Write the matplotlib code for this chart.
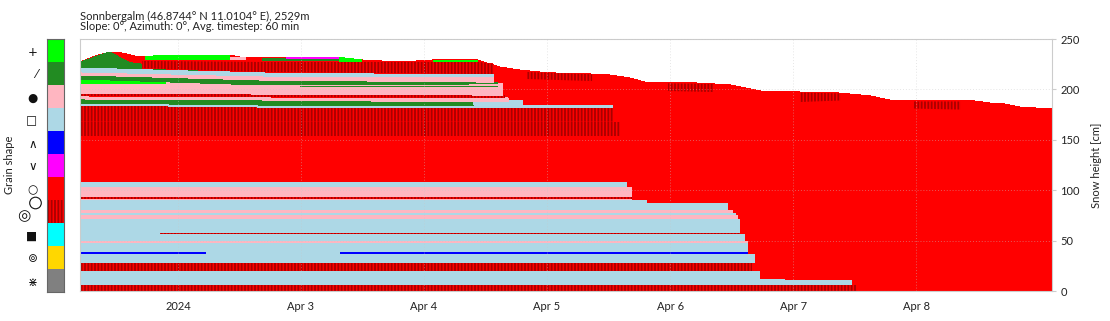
import numpy as np
import pandas as pd
import matplotlib
matplotlib.use("Agg")
import matplotlib.pyplot as plt
from matplotlib.patches import Circle

plt.rcParams['font.family'] = ['Lato', 'DejaVu Sans']
plt.rcParams['hatch.linewidth'] = 1.3

# ---------------- data ----------------
TITLE_1 = "Sonnbergalm (46.8744° N 11.0104° E), 2529m"
TITLE_2 = "Slope: 0°, Azimuth: 0°, Avg. timestep: 60 min"
ORIGIN = "2024-04-01 00:00"          # hours below are counted from here
X_RANGE_HOURS = [4.9, 194.5]
Y_RANGE_CM = [0, 250]
Y_TICKS = [0, 50, 100, 150, 200, 250]
X_TICK_HOURS = [24, 48, 72, 96, 120, 144, 168]
X_TICK_LABELS = ["2024", "Apr 3", "Apr 4", "Apr 5", "Apr 6", "Apr 7", "Apr 8"]

GRAIN_CODES = ['PP', 'DF', 'RG', 'FC', 'DH', 'SH', 'MF', 'MFcr', 'IF', 'FCxr', 'PPgp']
GRAIN_SYMBOLS = ['+', '⁄', '●', '□', '∧', '∨', '○', '', '■', '⊚', '⋇']
GRAIN_COLORS = ['#00ff00', '#228b22', '#ffb6c1', '#add8e6', '#0000ff', '#ff00ff',
                '#ff0000', '#ff0000', '#00ffff', '#ffd700', '#808080']

# snow surface (total snow height)
SURFACE_HOURS = [4.9, 7.8, 10.7, 12.3, 15.6, 17.6, 20.5, 34.1, 36.1, 40.4, 55.6, 59.9,
                 67.3, 73.8, 82.5, 84.9, 86.8, 90.7, 96.6, 104.4, 108.3, 112.2, 115.1,
                 125.9, 131.7, 137.6, 145.4, 153.2, 159.0, 162.9, 166.8, 179.5, 182.4,
                 185.4, 188.3, 194.5]
SURFACE_CM = [227.2, 233.1, 237.1, 237.1, 233.1, 232.1, 234.1, 234.1, 232.1, 231.7, 231.7,
              229.2, 227.2, 229.2, 229.2, 225.2, 222.2, 219.2, 216.3, 215.3, 214.3, 211.3,
              207.3, 206.3, 204.4, 198.4, 197.4, 196.4, 193.5, 189.5, 188.5, 188.5, 186.5,
              185.5, 182.5, 180.6]

# old base layers (nearly constant heights), bottom -> top
LOWER_GRAIN = ['MFcr', 'FC', 'FC', 'FC', 'MFcr', 'FC', 'FC', 'RG', 'FC', 'FC', 'RG', 'FC',
               'RG', 'FC', 'FC', 'RG', 'FC', 'DH', 'DH', 'MFcr', 'MFcr']
LOWER_BOTTOM = [0.0, 6.0, 10.9, 11.9, 19.8, 27.8, 36.7, 47.6, 49.6, 56.5, 71.4, 75.4,
                77.4, 80.4, 87.3, 90.3, 103.2, 37.0, 37.0, 56.8, 91.5]
LOWER_TOP = [6.0, 10.9, 11.9, 19.8, 27.8, 36.7, 47.6, 49.6, 56.5, 71.4, 75.4, 77.4,
             80.4, 87.3, 90.3, 103.2, 108.1, 38.5, 38.5, 58.0, 93.3]
LOWER_START = [4.9, 4.9, 4.9, 4.9, 4.9, 4.9, 4.9, 4.9, 4.9, 4.9, 4.9, 4.9,
               4.9, 4.9, 4.9, 4.9, 4.9, 4.9, 55.6, 20.5, 4.9]
LOWER_END = [156.5, 155.5, 142.4, 137.6, 136.0, 136.6, 135.2, 135.2, 134.6, 133.7, 133.3, 132.8,
             132.3, 131.3, 115.5, 112.6, 111.6, 29.5, 135.2, 133.7, 112.6]

# upper (settling) layers given at a few time knots
UPPER_GRAIN = ['MFcr', 'MFcr', 'FC', 'DF', 'FC', 'RG', 'MFcr', 'RG', 'DF', 'PP', 'DF',
               'RG', 'FC', 'DF', 'MFcr']
UPPER_HOURS = [[4.9, 110.2], [4.9, 40.0, 108.9], [4.9, 40.0, 108.7], [4.9, 40.0, 81.6],
               [81.6, 91.3], [4.9, 40.0, 82.9, 88.4], [4.9, 40.0, 87.8], [4.9, 40.0, 82.9, 87.4],
               [47.8, 86.4], [4.9, 21.5], [4.9, 40.0, 82.9, 86.4], [4.9, 40.0, 82.9, 85.5],
               [4.9, 40.0, 82.9, 85.5], [4.9, 10.7, 14.6, 21.5, 28.3], [17.0, 40.0, 82.9, 85.5]]
UPPER_BOTTOM = [[153.8, 153.8], [168.0, 168.0, 168.0], [184.5, 182.5, 182.5], [186.5, 184.5, 184.5],
                [184.5, 184.5], [190.5, 189.5, 187.5, 187.5], [193.5, 192.5, 191.5],
                [196.0, 195.4, 194.4, 194.4], [201.9, 201.9], [206.3, 206.3],
                [210.3, 204.4, 205.4, 205.4], [214.3, 209.3, 207.3, 207.3],
                [217.3, 213.3, 212.3, 212.3], [222.2, 221.4, 220.9, 219.9, 218.9],
                [221.0, 217.3, 215.3, 215.3]]
UPPER_TOP = [[168.0, 168.0], [184.5, 182.5, 182.5], [186.5, 184.5, 184.5], [190.5, 189.5, 187.5],
             [189.5, 189.5], [193.5, 192.5, 191.5, 191.5], [196.0, 195.4, 194.4],
             [210.3, 204.4, 205.4, 205.4], [203.4, 203.4], [210.3, 209.3],
             [214.3, 209.3, 207.3, 207.3], [217.3, 213.3, 212.3, 212.3],
             [222.2, 217.3, 215.3, 215.3], [227.2, 237.1, 226.5, 222.2, 219.5],
             [228.2, 227.2, 227.2, 225.2]]

# thin surface layers and crusts forming near the surface
TOP_GRAIN = ['PP', 'RG', 'DF', 'SH', 'PP', 'PP', 'MFcr', 'MFcr', 'MFcr', 'MFcr']
TOP_HOURS = [[17.6, 20.5, 34.1], [34.1, 37.2], [40.4, 55.6], [45.0, 55.6], [55.6, 59.9],
             [73.8, 82.5], [92.1, 104.8], [119.6, 128.4], [145.4, 153.2], [167.4, 176.6]]
TOP_BOTTOM = [[229.2, 229.2, 229.2], [229.2, 229.2], [228.2, 228.2], [229.7, 229.7],
              [227.2, 227.2], [227.2, 227.2], [210.3, 208.3], [198.4, 197.4], [187.5, 189.0],
              [181.0, 180.0]]
TOP_TOP = [[232.1, 234.1, 234.1], [232.1, 232.1], [230.7, 230.7], [231.7, 231.7],
           [231.7, 229.2], [229.2, 229.2], [217.3, 215.0], [206.0, 205.4], [196.9, 196.0],
           [188.0, 188.0]]

STRIPE_COLOR = '#a80000'
GRID_COLOR = '#c8c8c8'
FRAME_COLOR = '#cccccc'
TEXT_COLOR = '#222222'

# ---------------- drawing ----------------
origin = pd.Timestamp(ORIGIN)
color_of = dict(zip(GRAIN_CODES, GRAIN_COLORS))


def to_time(hours):
    return origin + pd.to_timedelta(np.asarray(hours, dtype=float), unit='h')


def band(ax, hours, bottom, top, grain):
    x = to_time(hours)
    if grain == 'MFcr':
        ax.fill_between(x, bottom, top, facecolor=color_of[grain], edgecolor=STRIPE_COLOR,
                        hatch='|||||', linewidth=0, antialiased=False)
    else:
        ax.fill_between(x, bottom, top, facecolor=color_of[grain], linewidth=0,
                        antialiased=False)


fig = plt.figure(figsize=(11.10, 3.21), dpi=100)
ax = fig.add_axes([80 / 1110, 1 - 291 / 321, 972 / 1110, 252 / 321])

# wet / melt forms fill the whole snowpack first
ax.fill_between(to_time(SURFACE_HOURS), 0, SURFACE_CM, facecolor=color_of['MF'],
                linewidth=0, antialiased=False)

for g, b, t, s, e in zip(LOWER_GRAIN, LOWER_BOTTOM, LOWER_TOP, LOWER_START, LOWER_END):
    band(ax, [s, e], [b, b], [t, t], g)
for g, h, b, t in zip(UPPER_GRAIN, UPPER_HOURS, UPPER_BOTTOM, UPPER_TOP):
    band(ax, h, b, t, g)
for g, h, b, t in zip(TOP_GRAIN, TOP_HOURS, TOP_BOTTOM, TOP_TOP):
    band(ax, h, b, t, g)

ax.set_xlim(to_time(X_RANGE_HOURS[0]), to_time(X_RANGE_HOURS[1]))
ax.set_ylim(*Y_RANGE_CM)
ax.set_xticks(to_time(X_TICK_HOURS))
ax.set_xticklabels(X_TICK_LABELS)
ax.set_yticks(Y_TICKS)
ax.yaxis.tick_right()
ax.yaxis.set_label_position('right')
ax.set_ylabel('Snow height [cm]', fontsize=8, color=TEXT_COLOR, labelpad=8)
ax.tick_params(axis='x', length=0, pad=7, labelsize=8, labelcolor=TEXT_COLOR)
ax.tick_params(axis='y', length=3, width=0.8, color=FRAME_COLOR, pad=3,
               labelsize=8, labelcolor=TEXT_COLOR)
ax.set_axisbelow(False)
ax.grid(True, color=GRID_COLOR, linestyle=(0, (1, 2)), linewidth=0.7, alpha=0.45)
for sp in ax.spines.values():
    sp.set_color(FRAME_COLOR)
    sp.set_linewidth(0.8)

fig.text(80 / 1110, 1 - 19.5 / 321, TITLE_1, fontsize=8, color=TEXT_COLOR, va='baseline')
fig.text(80 / 1110, 1 - 30.5 / 321, TITLE_2, fontsize=8, color=TEXT_COLOR, va='baseline')

# ---------------- grain-shape legend bar ----------------
cax = fig.add_axes([47 / 1110, 1 - 292 / 321, 17 / 1110, 253 / 321])
n = len(GRAIN_CODES)
for i, (code, col) in enumerate(zip(GRAIN_CODES, GRAIN_COLORS)):
    kw = dict(color=col, width=1.0, linewidth=0)
    if code == 'MFcr':
        kw = dict(facecolor=col, edgecolor=STRIPE_COLOR, hatch='|||||', width=1.0, linewidth=0)
    cax.bar(0, 1, bottom=n - 1 - i, **kw)
cax.set_xlim(-0.5, 0.5)
cax.set_ylim(0, n)
cax.set_xticks([])
cax.set_yticks([n - 1 - i + 0.5 for i in range(n)])
cax.set_yticklabels(GRAIN_SYMBOLS, fontsize=8.5, family=['DejaVu Sans'])
cax.tick_params(axis='y', length=0, pad=7, labelcolor='#111111')
for sp in cax.spines.values():
    sp.set_color('#666666')
    sp.set_linewidth(0.8)

# melt-freeze crust symbol: double ring plus an attached ring
mf_y = n - 1 - GRAIN_CODES.index('MFcr') + 0.5
cax.annotate('◎', xy=(-0.5, mf_y), xycoords='data', xytext=(-17, -3), textcoords='offset points',
             ha='center', va='center', fontsize=11, family=['DejaVu Sans'], color='#111111')
fig.patches.append(Circle((35.5 / 100, (321 - 203) / 100), 0.058, transform=fig.dpi_scale_trans,
                          fill=False, edgecolor='#111111', linewidth=0.8))
fig.text(10 / 1110, 1 - 165 / 321, 'Grain shape', rotation=90, fontsize=8,
         color=TEXT_COLOR, ha='center', va='center')

fig.savefig('out.png', dpi=100)
